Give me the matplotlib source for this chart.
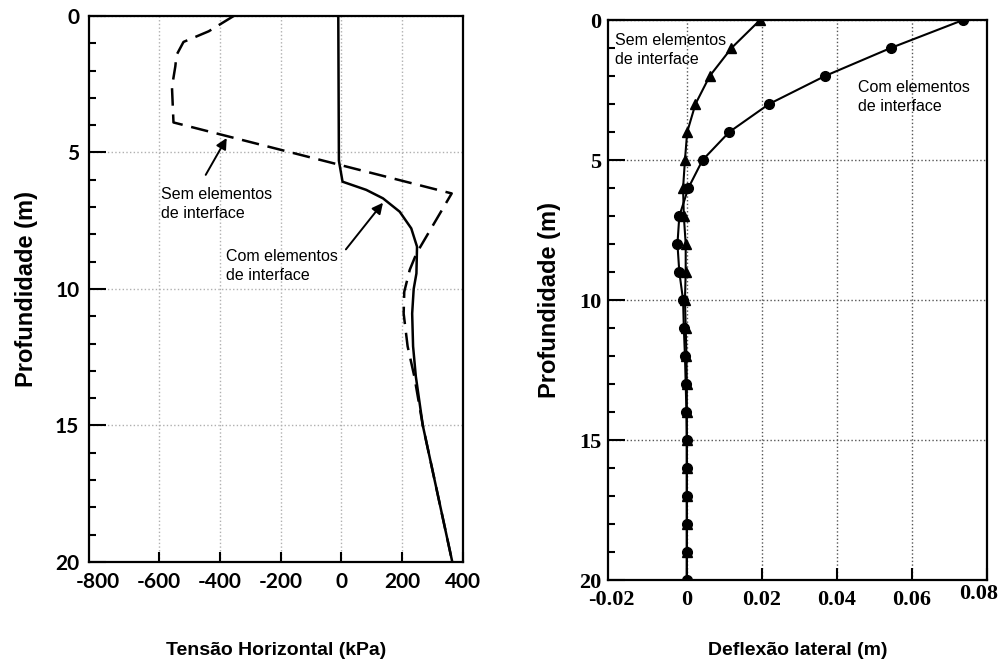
import matplotlib.pyplot as plt
from matplotlib.ticker import MultipleLocator
from matplotlib.transforms import ScaledTranslation

plt.rcParams['axes.unicode_minus'] = False

# Painel esquerdo: tensao horizontal (kPa) ao longo da profundidade (m)
com_prof = [0, 5.3, 6.07, 6.37, 6.68, 7.17, 7.78, 8.45, 9.43, 10, 10.9, 12.1, 13.2, 15, 20]
com_tensao = [-10, -8, 4, 82, 137, 192, 230, 249, 247, 238, 233, 236, 245, 268, 365]

sem_prof = [0, 0.56, 0.95, 1.43, 1.85, 2.6, 3.9, 6.5, 8.7, 9.3, 10.1, 10.9, 12.1, 13.2, 15, 20]
sem_tensao = [-354, -436, -519, -542, -546, -557, -552, 363, 247, 225, 207, 205, 218, 240, 268, 365]

# Painel direito: deflexao lateral (m), um ponto por metro
prof = list(range(0, 21))
com_defl = [0.0736, 0.0543, 0.0368, 0.0219, 0.0113, 0.0042, 0.0004, -0.002, -0.0025, -0.002,
            -0.001, -0.0008, -0.0005, -0.0003, -0.0001, 0, 0, 0, 0, 0, 0]
sem_defl = [0.0195, 0.0119, 0.0061, 0.0023, 0.0001, -0.0005, -0.001, -0.0008, -0.0003, -0.0003,
            -0.0005, -0.0003, -0.0001, 0, 0, 0, 0, 0, 0, 0, 0]

tensao_ticks = [-800, -600, -400, -200, 0, 200, 400]
defl_ticks = [-0.02, 0, 0.02, 0.04, 0.06, 0.08]
defl_labels = ['-0.02', '0', '0.02', '0.04', '0.06', '0.08']
prof_ticks = [0, 5, 10, 15, 20]

label_font = dict(family=['Liberation Sans', 'DejaVu Sans'], size=17, weight='bold')
xlabel_font = dict(family=['Liberation Sans', 'DejaVu Sans'], size=14, weight='bold')
note_font = dict(family=['Liberation Sans', 'DejaVu Sans'], size=11.5)

fig = plt.figure(figsize=(10.04, 6.66), dpi=100)
ax1 = fig.add_axes([0.0886, 0.1562, 0.3725, 0.8198])
ax2 = fig.add_axes([0.6056, 0.1291, 0.3775, 0.8408])


def estilo(ax, xticks, xlabels, grid_color, fam, size, ypad):
    ax.set_ylim(20, 0)
    ax.set_yticks(prof_ticks)
    ax.yaxis.set_minor_locator(MultipleLocator(1))
    ax.set_xticks(xticks)
    ax.set_xticklabels(xlabels)
    for lab in ax.get_xticklabels() + ax.get_yticklabels():
        lab.set_fontfamily(fam)
        lab.set_fontsize(size)
        lab.set_fontweight('bold')
    ax.tick_params(axis='x', which='major', direction='in', length=7, width=1.5, pad=7, top=False)
    ax.tick_params(axis='y', which='major', direction='in', length=12, width=1.5, pad=ypad, right=False)
    ax.tick_params(axis='y', which='minor', direction='in', length=5, width=1.5, right=False)
    for s in ax.spines.values():
        s.set_linewidth(1.6)
    ax.grid(True, which='major', linestyle=':', linewidth=1.0, color=grid_color)
    # primeiro tick fica colado no eixo: sem risco nem grade
    t0 = ax.xaxis.get_major_ticks()[0]
    t0.tick1line.set_visible(False)
    t0.gridline.set_visible(False)
    ax.set_ylabel('Profundidade (m)', **label_font)


# --- esquerda ---
ax1.set_xlim(-830, 400)
estilo(ax1, tensao_ticks, [str(t) for t in tensao_ticks], '#b0b0b0', 'Lato', 15, 7)
ax1.yaxis.set_label_coords(-0.137, 0.5)
ax1.plot(com_tensao, com_prof, color='black', lw=1.8)
ax1.plot(sem_tensao, sem_prof, color='black', lw=1.8, dashes=(7, 3.5))
ax1.set_xlabel('Tensão Horizontal (kPa)', **xlabel_font)
ax1.xaxis.set_label_coords(0.5, -0.147)

seta = dict(arrowstyle='-|>', color='black', lw=1.4, mutation_scale=16, shrinkA=0, shrinkB=0)
ax1.annotate('', xy=(-377, 4.47), xytext=(-446, 5.82), arrowprops=seta)
ax1.annotate('', xy=(137, 6.84), xytext=(15, 8.55), arrowprops=seta)
ax1.text(-592, 6.26, 'Sem elementos\nde interface', va='top', ha='left', linespacing=1.35, **note_font)
ax1.text(-380, 8.53, 'Com elementos\nde interface', va='top', ha='left', linespacing=1.35, **note_font)

# --- direita ---
ax2.set_xlim(-0.021, 0.08)
estilo(ax2, defl_ticks, defl_labels, '#555555', 'Liberation Serif', 16, 5)
ax2.yaxis.set_label_coords(-0.125, 0.5)
ax2.tick_params(axis='x', which='major', length=9)
# o ultimo rotulo (0.08) fica um pouco para dentro e mais alto, como no original
ultimo = ax2.get_xticklabels()[-1]
ultimo.set_transform(ultimo.get_transform() + ScaledTranslation(-6 / 72, 4 / 72, fig.dpi_scale_trans))
ax2.plot(com_defl, prof, color='black', lw=1.5, marker='o', markersize=7)
ax2.plot(sem_defl, prof, color='black', lw=1.5, marker='^', markersize=7)
ax2.set_xlabel('Deflexão lateral (m)', **xlabel_font)
ax2.xaxis.set_label_coords(0.5, -0.111)
ax2.text(-0.0192, 0.46, 'Sem elementos\nde interface', va='top', ha='left', linespacing=1.35, **note_font)
ax2.text(0.0456, 2.14, 'Com elementos\nde interface', va='top', ha='left', linespacing=1.35, **note_font)

plt.savefig('out.png', dpi=100)
